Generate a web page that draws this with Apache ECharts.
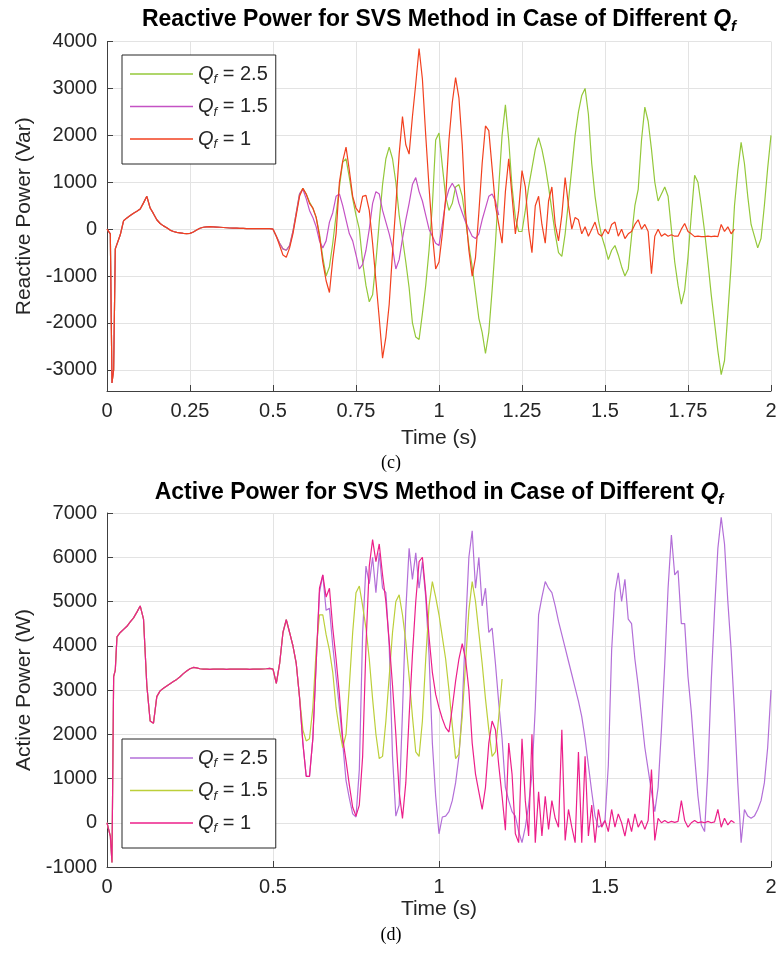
<!DOCTYPE html>
<html><head><meta charset="utf-8">
<script src="https://cdn.jsdelivr.net/npm/echarts@6/dist/echarts.min.js"></script>
<style>html,body{margin:0;padding:0;background:#fff}#c{width:777px;height:958px}</style>
</head><body><div id="c"></div>
<script>
// Time samples (s)
const timeSec = [
0,0.01,0.015,0.02,0.025,0.03,0.04,0.05,0.06,0.07,0.08,0.09,
0.10,0.11,0.12,0.13,0.14,0.15,0.16,0.17,0.18,0.19,
0.20,0.21,0.22,0.23,0.24,0.25,0.26,0.27,0.28,0.29,
0.30,0.31,0.32,0.33,0.34,0.35,0.36,0.37,0.38,0.39,
0.40,0.41,0.42,0.43,0.44,0.45,0.46,0.47,0.48,0.49,
0.50,0.51,0.52,0.53,0.54,0.55,0.56,0.57,0.58,0.59,
0.60,0.61,0.62,0.63,0.64,0.65,0.66,0.67,0.68,0.69,
0.70,0.71,0.72,0.73,0.74,0.75,0.76,0.77,0.78,0.79,
0.80,0.81,0.82,0.83,0.84,0.85,0.86,0.87,0.88,0.89,
0.90,0.91,0.92,0.93,0.94,0.95,0.96,0.97,0.98,0.99,
1.00,1.01,1.02,1.03,1.04,1.05,1.06,1.07,1.08,1.09,
1.10,1.11,1.12,1.13,1.14,1.15,1.16,1.17,1.18,1.19,
1.20,1.21,1.22,1.23,1.24,1.25,1.26,1.27,1.28,1.29,
1.30,1.31,1.32,1.33,1.34,1.35,1.36,1.37,1.38,1.39,
1.40,1.41,1.42,1.43,1.44,1.45,1.46,1.47,1.48,1.49,
1.50,1.51,1.52,1.53,1.54,1.55,1.56,1.57,1.58,1.59,
1.60,1.61,1.62,1.63,1.64,1.65,1.66,1.67,1.68,1.69,
1.70,1.71,1.72,1.73,1.74,1.75,1.76,1.77,1.78,1.79,
1.80,1.81,1.82,1.83,1.84,1.85,1.86,1.87,1.88,1.89,
1.90,1.91,1.92,1.93,1.94,1.95,1.96,1.97,1.98,1.99,
2.00];

// ---- Reactive power (Var): shared start 0 .. 0.49 s ----
const reactiveCommon = [
0,-100,-3280,-3000,-420,-380,-120,180,240,290,340,380,
430,560,700,450,330,200,120,70,30,-20,
-50,-70,-80,-90,-95,-90,-60,-20,20,40,
50,55,50,45,40,35,30,25,20,20,
15,15,10,10,10,10,10,10,10,10];
// from 0.50 s
const reactiveQf25 = [
0,-150,-300,-420,-450,-350,-50,350,750,870,
750,580,450,250,-100,-600,-1000,-800,-300,300,
900,1430,1500,1100,650,300,0,-700,-1200,-1550,
-1400,-700,150,950,1500,1750,1500,1000,300,-200,
-700,-1250,-2000,-2300,-2350,-1800,-1200,-450,500,1900,
2050,1350,700,400,550,900,950,700,200,-350,
-800,-1350,-1900,-2200,-2650,-2200,-1300,-300,900,2000,
2650,1900,900,250,-50,-50,400,900,1300,1700,
1950,1700,1350,900,400,-100,-500,-580,-100,600,
1300,2000,2500,2850,3000,2450,1400,700,200,-150,
-380,-650,-450,-350,-550,-800,-1000,-850,-150,500,
850,1900,2600,2300,1700,1000,600,750,900,700,
0,-700,-1200,-1600,-1300,-600,300,1150,1000,500,
-50,-700,-1400,-2000,-2600,-3100,-2800,-1800,-750,500,
1250,1850,1400,700,100,-150,-400,-200,500,1300,
2000];
const reactiveQf15 = [
0,-150,-300,-420,-450,-350,-50,350,750,850,
650,400,250,50,-250,-400,-250,150,350,700,
750,500,200,-100,-250,-550,-850,-750,-450,0,
550,800,750,400,150,-100,-400,-850,-650,-200,
200,550,950,1100,800,600,300,0,-150,-300,
-350,100,600,850,980,850,550,350,150,0,
-150,-200,-100,200,450,700,750,600,300];
const reactiveQf1 = [
0,-150,-350,-550,-600,-400,-100,300,700,870,
750,550,450,250,-150,-700,-1100,-1350,-650,-100,
1000,1450,1750,1250,700,450,350,700,720,400,
-300,-1100,-1900,-2750,-2300,-1600,-500,500,1600,2400,
1800,1600,2400,3100,3850,3200,2000,900,-100,-850,
-700,-100,650,1900,2700,3230,2800,1800,350,-450,
-1000,-600,350,1400,2200,2100,1300,500,100,-300,
800,1500,700,-100,400,1250,900,0,-500,500,
700,100,-300,600,900,100,-250,300,1100,500,
0,250,200,-100,50,-150,0,150,-100,-150,
0,-100,100,150,-150,0,-200,-100,-50,100,
200,0,100,-50,-950,-150,0,-150,-100,-150,
-120,-150,-150,0,120,-50,-100,-160,-150,-160,
-160,-150,-160,-150,-160,100,-50,50,-100,0];

// ---- Active power (W): shared start 0 .. 0.49 s ----
const activeCommon = [
0,-300,-900,3300,3450,4200,4300,4370,4440,4540,4630,4760,
4900,4600,3100,2300,2250,2850,2980,3040,3090,3140,
3190,3240,3300,3370,3430,3480,3510,3500,3480,3470,
3470,3465,3470,3475,3470,3470,3465,3470,3475,3470,
3470,3475,3470,3465,3470,3475,3470,3475,3480,3490];
// from 0.50 s
const activeQf25 = [
3470,3150,3600,4300,4590,4300,4000,3600,2830,1800,
1050,1050,1900,3600,5200,5600,4800,4850,4000,3300,
2600,1800,950,550,200,130,1200,4300,5800,5400,
6000,5200,6100,5300,5200,4000,1500,150,400,2500,
4800,6200,5500,6100,5300,5900,5100,3800,1800,600,
-250,130,150,250,500,900,1500,2600,4400,6000,
6600,5300,6000,4900,5300,4300,4400,3600,2700,1900,
800,500,250,150,-200,-450,-100,400,1100,2600,
4700,5100,5450,5300,5200,4900,4550,4250,3950,3650,
3350,3050,2750,2400,1900,1300,700,150,-100,-50,
50,1300,3900,5200,5650,5000,5500,4600,4500,3700,
3100,2400,1700,1200,700,250,800,2100,3600,5300,
6500,5600,5700,4500,4500,3300,2500,1500,600,-50,
-200,1200,3200,4800,6200,6900,6300,5000,3900,2500,
900,-450,300,150,100,150,300,500,900,1700,
3000];
const activeQf15 = [
3470,3150,3600,4300,4590,4300,4000,3600,2830,2100,
1850,1900,2600,3900,4700,4700,4250,3900,3400,2600,
2100,1700,2000,3100,4300,5200,5350,4900,4400,3700,
2800,2000,1450,1500,2300,3300,4300,5000,5150,4700,
4100,3300,2400,1600,1500,2300,3700,4900,5450,5100,
4700,4200,3700,3000,2200,1450,1550,2400,3600,4800,
5450,5000,4300,3600,2800,2100,1500,1600,2400,3250];
const activeQf1 = [
3470,3150,3600,4300,4590,4300,4000,3600,2830,1800,
1050,1050,1900,3600,5300,5600,5100,5300,4400,3700,
2900,1900,1400,850,350,150,400,1500,4000,5800,
6400,5900,6300,5600,5000,4100,3100,2000,700,100,
900,2400,3800,5000,5900,6000,5200,4200,3400,2900,
2600,2350,2150,2050,2600,3200,3700,4050,3700,3000,
1800,1100,700,300,800,1800,2300,2100,1300,600,
-170,1800,1100,-250,-450,1900,500,-300,2000,-450,
700,-300,600,-150,500,100,-100,2100,-400,300,
-100,-450,1600,-450,1500,-300,400,-450,300,-100,
50,-200,300,-100,200,0,-300,100,-200,200,
-100,50,-150,50,1200,-400,100,0,50,0,
30,10,30,500,50,-100,0,50,0,20,
0,30,0,20,300,-100,100,-50,50,0];

const reactiveTicks = [-3000,-2000,-1000,0,1000,2000,3000,4000];
const legendLabels = {
  rq25:'{q|Q}{s|f}{n| = 2.5}', rq15:'{q|Q}{s|f}{n| = 1.5}', rq1:'{q|Q}{s|f}{n| = 1}',
  aq25:'{q|Q}{s|f}{n| = 2.5}', aq15:'{q|Q}{s|f}{n| = 1.5}', aq1:'{q|Q}{s|f}{n| = 1}'
};

function build(common, tail){
  const v = common.concat(tail);
  const out = [];
  for (let i = 0; i < v.length; i++) out.push([timeSec[i], v[i]]);
  return out;
}

const FF = '"Liberation Sans", Arial, Helvetica, sans-serif';
const TXT = '#262626';
const legendRich = {
  q:{fontFamily:FF,fontSize:20,fontStyle:'italic',color:TXT,lineHeight:24},
  s:{fontFamily:FF,fontSize:13,fontStyle:'italic',color:TXT,lineHeight:10,verticalAlign:'bottom'},
  n:{fontFamily:FF,fontSize:20,color:TXT,lineHeight:24}
};
const titleRich = {
  a:{fontFamily:FF,fontSize:23,fontWeight:'bold',color:'#000',lineHeight:28},
  q:{fontFamily:FF,fontSize:23,fontWeight:'bold',fontStyle:'italic',color:'#000',lineHeight:28},
  s:{fontFamily:FF,fontSize:15,fontWeight:'bold',fontStyle:'italic',color:'#000',lineHeight:12,verticalAlign:'bottom'}
};

function xAxisCfg(gridIndex, interval, gap){
  return {
    type:'value', gridIndex, min:0, max:2, interval,
    name:'Time (s)', nameLocation:'middle', nameGap:gap,
    nameTextStyle:{fontFamily:FF,fontSize:21,color:TXT},
    axisLine:{show:true,onZero:false,lineStyle:{color:'#404040',width:1}},
    axisTick:{show:true,inside:true,length:6,lineStyle:{color:'#404040'}},
    axisLabel:{fontFamily:FF,fontSize:20,color:TXT,margin:10,formatter:v=>String(v)},
    splitLine:{show:true,lineStyle:{color:'#e3e3e3',width:1}}
  };
}

const option = {
  backgroundColor:'#fff',
  animation:false,
  title:[
    {text:'{a|Reactive Power for SVS Method in Case of Different }{q|Q}{s|f}',left:439,top:6,textAlign:'center',padding:0,textStyle:{rich:titleRich}},
    {text:'{a|Active Power for SVS Method in Case of Different }{q|Q}{s|f}',left:439,top:479,textAlign:'center',padding:0,textStyle:{rich:titleRich}},
    {text:'(c)',left:391,top:453,textAlign:'center',padding:0,textStyle:{fontFamily:'"Liberation Serif", "Times New Roman", serif',fontSize:18,fontWeight:'normal',color:'#000',lineHeight:20}},
    {text:'(d)',left:391,top:925,textAlign:'center',padding:0,textStyle:{fontFamily:'"Liberation Serif", "Times New Roman", serif',fontSize:18,fontWeight:'normal',color:'#000',lineHeight:20}}
  ],
  legend:[
    {data:['rq25','rq15','rq1'],orient:'vertical',left:122,top:55,padding:[9,8,13,8],itemGap:10.5,
     itemWidth:63,itemHeight:1.5,icon:'rect',backgroundColor:'#fff',borderColor:'#262626',borderWidth:1,
     formatter:n=>legendLabels[n],textStyle:{rich:legendRich}},
    {data:['aq25','aq15','aq1'],orient:'vertical',left:122,top:739,padding:[9,8,13,8],itemGap:10.5,
     itemWidth:63,itemHeight:1.5,icon:'rect',backgroundColor:'#fff',borderColor:'#262626',borderWidth:1,
     formatter:n=>legendLabels[n],textStyle:{rich:legendRich}}
  ],
  grid:[
    {left:107,top:41.5,width:664,height:349.5,outerBoundsMode:'none',containLabel:false},
    {left:107,top:513,width:664,height:354,outerBoundsMode:'none',containLabel:false}
  ],
  xAxis:[xAxisCfg(0,0.25,37), xAxisCfg(1,0.5,32)],
  yAxis:[
    {type:'value',gridIndex:0,min:-3450,max:4000,
     name:'Reactive Power (Var)',nameLocation:'middle',nameGap:70,
     nameTextStyle:{fontFamily:FF,fontSize:21,color:TXT},
     axisLine:{show:true,onZero:false,lineStyle:{color:'#404040',width:1}},
     axisTick:{show:true,inside:true,length:6,lineStyle:{color:'#404040'},customValues:reactiveTicks},
     axisLabel:{fontFamily:FF,fontSize:20,color:TXT,margin:10,customValues:reactiveTicks,formatter:v=>String(v)},
     splitLine:{show:true,lineStyle:{color:'#e3e3e3',width:1}}},
    {type:'value',gridIndex:1,min:-1000,max:7000,interval:1000,
     name:'Active Power (W)',nameLocation:'middle',nameGap:70,
     nameTextStyle:{fontFamily:FF,fontSize:21,color:TXT},
     axisLine:{show:true,onZero:false,lineStyle:{color:'#404040',width:1}},
     axisTick:{show:true,inside:true,length:6,lineStyle:{color:'#404040'}},
     axisLabel:{fontFamily:FF,fontSize:20,color:TXT,margin:10,formatter:v=>String(v)},
     splitLine:{show:true,lineStyle:{color:'#e3e3e3',width:1}}}
  ],
  series:[
    {name:'rq25',type:'line',xAxisIndex:0,yAxisIndex:0,data:build(reactiveCommon,reactiveQf25),showSymbol:false,symbol:'none',color:'#94c83a',lineStyle:{width:1.2,color:'#94c83a'}},
    {name:'rq15',type:'line',xAxisIndex:0,yAxisIndex:0,data:build(reactiveCommon,reactiveQf15),showSymbol:false,symbol:'none',color:'#c452c4',lineStyle:{width:1.2,color:'#c452c4'}},
    {name:'rq1',type:'line',xAxisIndex:0,yAxisIndex:0,data:build(reactiveCommon,reactiveQf1),showSymbol:false,symbol:'none',color:'#f2401f',lineStyle:{width:1.2,color:'#f2401f'}},
    {name:'aq25',type:'line',xAxisIndex:1,yAxisIndex:1,data:build(activeCommon,activeQf25),showSymbol:false,symbol:'none',color:'#b36fd8',lineStyle:{width:1.2,color:'#b36fd8'}},
    {name:'aq15',type:'line',xAxisIndex:1,yAxisIndex:1,data:build(activeCommon,activeQf15),showSymbol:false,symbol:'none',color:'#bccf3a',lineStyle:{width:1.2,color:'#bccf3a'}},
    {name:'aq1',type:'line',xAxisIndex:1,yAxisIndex:1,data:build(activeCommon,activeQf1),showSymbol:false,symbol:'none',color:'#ec1f8a',lineStyle:{width:1.2,color:'#ec1f8a'}}
  ]
};
const chart = echarts.init(document.getElementById('c'), null, {renderer:'canvas'});
chart.setOption(option);
</script>
</body></html>
